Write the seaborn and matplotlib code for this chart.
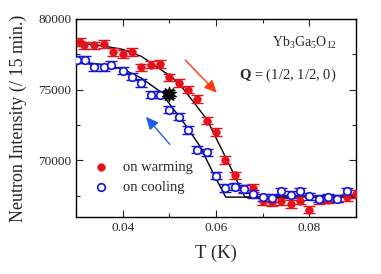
import matplotlib
matplotlib.use("Agg")
import matplotlib.pyplot as plt
import seaborn as sns
import numpy as np

# warming data (filled red)
T_warm = [0.0309, 0.0317, 0.0339, 0.036, 0.038, 0.040, 0.042, 0.044, 0.046, 0.048,
          0.050, 0.052, 0.054, 0.056, 0.058, 0.060, 0.062, 0.064, 0.066, 0.068,
          0.070, 0.072, 0.074, 0.076, 0.078, 0.080, 0.082, 0.084, 0.086, 0.088, 0.090]
I_warm = [78370, 78140, 78140, 78230, 77660, 77520, 77660, 76580, 76770, 76810,
          75870, 75470, 75000, 74340, 72810, 72000, 70020, 68940, 68000, 68040,
          67100, 67050, 67100, 66910, 67150, 66510, 67190, 67220, 67290, 67380, 67620]

# cooling data (open blue)
T_cool = [0.0303, 0.0319, 0.0339, 0.0359, 0.0376, 0.040, 0.042, 0.044, 0.046, 0.048,
          0.050, 0.052, 0.054, 0.056, 0.058, 0.060, 0.062, 0.064, 0.066, 0.068,
          0.070, 0.072, 0.074, 0.076, 0.078, 0.080, 0.082, 0.084, 0.086, 0.088]
I_cool = [77120, 77120, 76580, 76580, 76770, 76340, 75920, 75470, 74650, 74650,
          73590, 73090, 72150, 70760, 70570, 68920, 68040, 68140, 67970, 67620,
          67380, 67340, 67810, 67570, 67810, 67450, 67290, 67380, 67290, 67810]

# black reference point
T_ref = [0.050]
I_ref = [74690]
err = 260

# fit curves
T_fit_w = [0.030, 0.0359, 0.040, 0.044, 0.048, 0.0505, 0.0523, 0.0551, 0.0581, 0.0605, 0.063, 0.0662, 0.090]
I_fit_w = [78325, 78090, 77854, 77358, 76462, 75900, 75354, 74175, 72877, 71274, 69599, 67406, 67406]
T_fit_c = [0.030, 0.0359, 0.040, 0.044, 0.048, 0.0509, 0.0537, 0.0566, 0.0594, 0.0621, 0.090]
I_fit_c = [77005, 76769, 76462, 75825, 74882, 73632, 72406, 70991, 69104, 67406, 67406]

red = "#e3121b"
blue = "#1414d8"

sns.set_style("ticks")
plt.rcParams["font.family"] = ["Liberation Serif", "DejaVu Serif"]
plt.rcParams["mathtext.fontset"] = "custom"
plt.rcParams["mathtext.rm"] = "Liberation Serif"
plt.rcParams["mathtext.bf"] = "Liberation Serif:bold"

fig = plt.figure(figsize=(3.81, 2.74), dpi=100)
ax = fig.add_axes([0.1995, 0.208, 0.7345, 0.7227])

sns.lineplot(x=T_fit_w, y=I_fit_w, color="black", lw=1.0, ax=ax, sort=False)
sns.lineplot(x=T_fit_c, y=I_fit_c, color="black", lw=1.0, ax=ax, sort=False)

ax.errorbar(T_warm, I_warm, yerr=err, fmt="none", ecolor=red, elinewidth=1.0, capsize=4, capthick=1.0)
ax.errorbar(T_cool, I_cool, yerr=err, fmt="none", ecolor=blue, elinewidth=1.0, capsize=4, capthick=1.0)
ax.errorbar(T_ref, I_ref, yerr=err, fmt="none", ecolor="black", elinewidth=1.0, capsize=4, capthick=1.0)

sns.scatterplot(x=T_warm, y=I_warm, color=red, edgecolor=red, s=30, marker="o",
                label="on warming", ax=ax, zorder=3)
sns.scatterplot(x=T_cool, y=I_cool, facecolor="white", edgecolor=blue, linewidth=1.2, s=30,
                marker="o", label="on cooling", ax=ax, zorder=3)
sns.scatterplot(x=T_ref, y=I_ref, color="black", edgecolor="black", s=110, marker=(10, 1, 0),
                ax=ax, zorder=4)

ax.annotate("", xy=(0.0606, 74646), xytext=(0.053, 77241),
            arrowprops=dict(arrowstyle="-|>,head_length=0.75,head_width=0.35", color="#ff3a10", lw=1.0))
ax.annotate("", xy=(0.0446, 73231), xytext=(0.0505, 70991),
            arrowprops=dict(arrowstyle="-|>,head_length=0.75,head_width=0.35", color="#1f5ee6", lw=1.0))

ax.text(0.932, 0.88, r"Yb$_3$Ga$_5$O$_{12}$", transform=ax.transAxes, ha="right", va="center", fontsize=10)
ax.text(0.932, 0.715, r"$\mathbf{Q}$ = (1/2, 1/2, 0)", transform=ax.transAxes, ha="right", va="center", fontsize=10.5)

ax.set_xlim(0.03, 0.09)
ax.set_ylim(66000, 80000)
ax.set_xticks([0.04, 0.06, 0.08])
ax.set_xticks([0.03, 0.05, 0.07, 0.09], minor=True)
ax.set_yticks([70000, 75000, 80000])
ax.set_yticks([67500, 72500, 77500], minor=True)
ax.tick_params(which="both", direction="in", top=True, right=True, labelsize=9.5, width=0.8)
ax.tick_params(which="major", length=5)
ax.tick_params(which="minor", length=3)
for s in ax.spines.values():
    s.set_linewidth(1.0)
    s.set_color("black")

ax.set_xlabel("T (K)", fontsize=13.5, labelpad=8)
ax.set_ylabel("Neutron Intensity (/ 15 min.)", fontsize=13, labelpad=8)

ax.legend(loc="lower left", bbox_to_anchor=(0.01, 0.05), frameon=False, fontsize=10.5,
          handletextpad=0.9, labelspacing=0.45, handlelength=1.2)

fig.savefig("out.png", dpi=100)
